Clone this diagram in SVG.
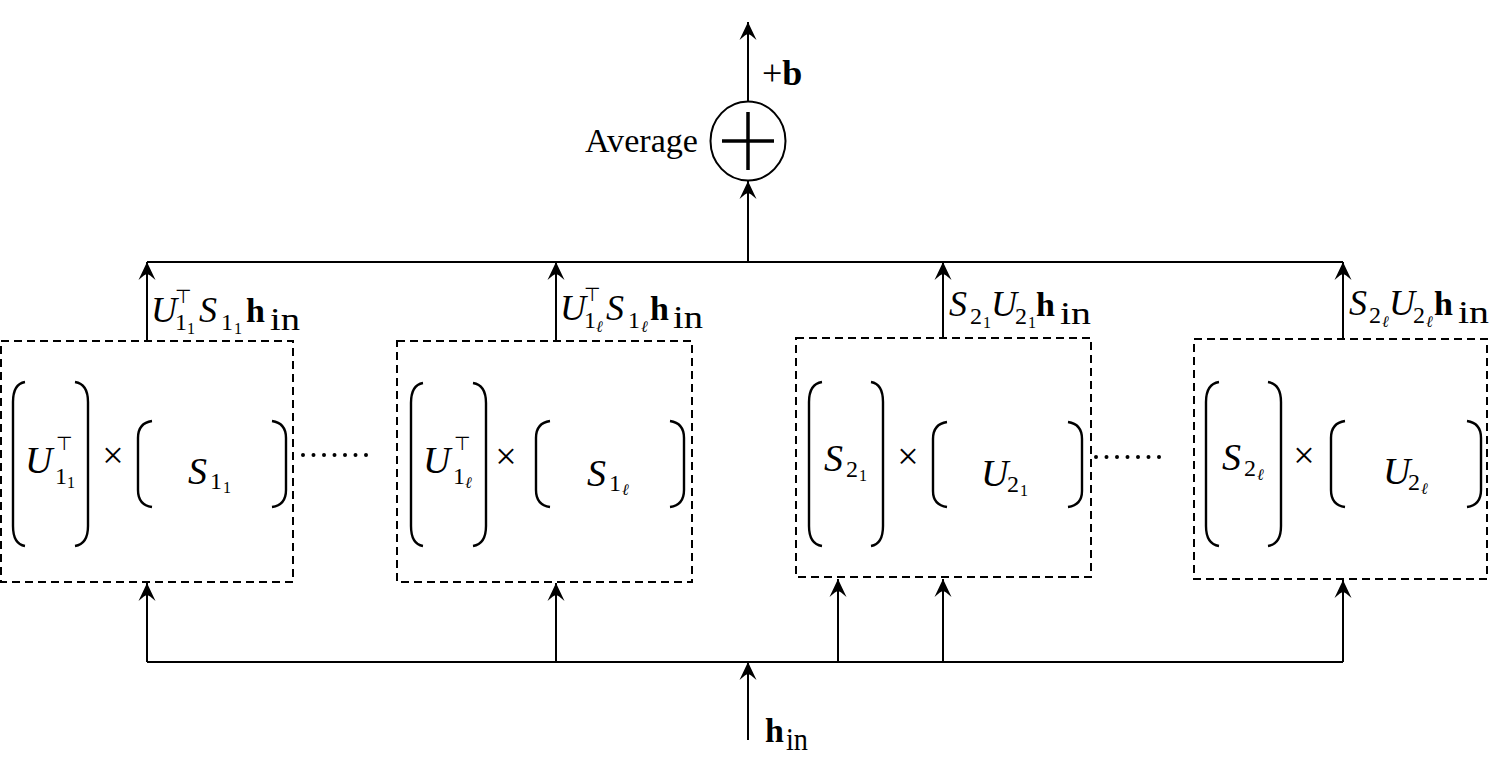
<svg xmlns="http://www.w3.org/2000/svg" width="1492" height="758" viewBox="0 0 1492 758">
<style>
text{font-family:"Liberation Serif","DejaVu Serif",serif;fill:#000}
.i{font-style:italic;font-size:38px}
.li{font-style:italic;font-size:36px}
.s{font-size:24px}
.ss{font-size:16px}
.ssi{font-size:16px;font-style:italic}
.t{font-family:"DejaVu Sans",sans-serif;font-size:19px}
.b{font-weight:bold;font-size:34px}
.in{font-size:32px}
.x{font-size:38px;text-anchor:middle}
.ln{stroke:#000;stroke-width:2;fill:none}
.ar{stroke:#000;stroke-width:2;fill:none;marker-end:url(#ah)}
.box{stroke:#000;stroke-width:2;fill:none;stroke-dasharray:8 5}
.par{stroke:#000;stroke-width:2.4;fill:none}
.dots{stroke:#000;stroke-width:4;stroke-linecap:round;stroke-dasharray:0 10.5;fill:none}
</style>
<defs>
<marker id="ah" viewBox="-20 -10 22 20" markerWidth="22" markerHeight="20" refX="0" refY="0" orient="auto" markerUnits="userSpaceOnUse">
<path d="M0,0 L-18,-8.5 Q-12,-2 -12,0 Q-12,2 -18,8.5 Z" fill="#000"/>
</marker>
</defs>
<rect width="1492" height="758" fill="#fff"/>

<g id="connectors">
<line class="ar" x1="748" y1="101" x2="748" y2="22"/>
<line class="ar" x1="748" y1="262" x2="748" y2="181"/>
<line class="ln" x1="147" y1="262" x2="1343" y2="262"/>
<line class="ar" x1="147" y1="341" x2="147" y2="262"/>
<line class="ar" x1="556" y1="341" x2="556" y2="262"/>
<line class="ar" x1="943" y1="338" x2="943" y2="262"/>
<line class="ar" x1="1343" y1="339" x2="1343" y2="262"/>
<line class="ln" x1="147" y1="662" x2="1343" y2="662"/>
<line class="ar" x1="147" y1="662" x2="147" y2="583"/>
<line class="ar" x1="556" y1="662" x2="556" y2="583"/>
<line class="ar" x1="838" y1="662" x2="838" y2="579"/>
<line class="ar" x1="943" y1="662" x2="943" y2="579"/>
<line class="ar" x1="1343" y1="662" x2="1343" y2="580"/>
<line class="ar" x1="748" y1="740" x2="748" y2="662"/>
<line class="dots" x1="303" y1="455" x2="367" y2="455"/>
<line class="dots" x1="1096" y1="457" x2="1160" y2="457"/>
</g>

<g id="average">
<ellipse cx="748" cy="141" rx="37.5" ry="39.5" fill="#fff" stroke="#000" stroke-width="2"/>
<line x1="722" y1="141" x2="774" y2="141" stroke="#000" stroke-width="3.5"/>
<line x1="748" y1="112" x2="748" y2="170" stroke="#000" stroke-width="3.5"/>
<text x="698" y="152" font-size="34" text-anchor="end" textLength="113" lengthAdjust="spacingAndGlyphs">Average</text>
</g>

<g id="bias">
<text x="762" y="85" font-size="36">+<tspan font-weight="bold">b</tspan></text>
</g>

<g id="input">
<text class="b" x="765" y="742">h</text>
<text class="in" x="786" y="750" textLength="22" lengthAdjust="spacingAndGlyphs">in</text>
</g>

<g id="box1">
<rect class="box" x="1" y="341" width="292" height="241"/>
<path class="par" d="M25,382 Q13,384 13,402 L13,526 Q13,544 25,546"/>
<path class="par" d="M75,382 Q88,384 88,402 L88,526 Q88,544 75,546"/>
<path class="par" d="M152,421 Q138,423 138,438 L138,490 Q138,505 152,507"/>
<path class="par" d="M272,421 Q286,423 286,438 L286,490 Q286,505 272,507"/>
<text class="i" x="25" y="473">U</text>
<text class="t" x="56" y="450">⊤</text>
<text class="s" x="55" y="484">1</text>
<text class="ss" x="67" y="488">1</text>
<text class="x" x="113" y="468">×</text>
<text class="i" x="188" y="484">S</text>
<text class="s" x="210" y="489">1</text>
<text class="ss" x="223" y="493">1</text>
<text class="li" x="151" y="322">U</text>
<text class="t" x="175" y="303">⊤</text>
<text class="s" x="175" y="330">1</text>
<text class="ss" x="187" y="334">1</text>
<text class="li" x="199" y="322">S</text>
<text class="s" x="221" y="330">1</text>
<text class="ss" x="234" y="334">1</text>
<text class="b" x="246" y="322">h</text>
<text class="in" x="270" y="330" textLength="30" lengthAdjust="spacingAndGlyphs">in</text>
</g>

<g id="box2">
<rect class="box" x="397" y="341" width="295" height="241"/>
<path class="par" d="M423,383 Q411,385 411,403 L411,526 Q411,544 423,546"/>
<path class="par" d="M473,383 Q486,385 486,403 L486,526 Q486,544 473,546"/>
<path class="par" d="M550,421 Q536,423 536,438 L536,490 Q536,505 550,507"/>
<path class="par" d="M670,421 Q684,423 684,438 L684,490 Q684,505 670,507"/>
<text class="i" x="423" y="473">U</text>
<text class="t" x="454" y="450">⊤</text>
<text class="s" x="453" y="484">1</text>
<text class="ssi" x="465" y="488">ℓ</text>
<text class="x" x="506" y="469">×</text>
<text class="i" x="587" y="486">S</text>
<text class="s" x="609" y="491">1</text>
<text class="ssi" x="622" y="495">ℓ</text>
<text class="li" x="560" y="320">U</text>
<text class="t" x="584" y="301">⊤</text>
<text class="s" x="584" y="328">1</text>
<text class="ssi" x="596" y="332">ℓ</text>
<text class="li" x="606" y="320">S</text>
<text class="s" x="628" y="328">1</text>
<text class="ssi" x="641" y="332">ℓ</text>
<text class="b" x="650" y="320">h</text>
<text class="in" x="673" y="328" textLength="30" lengthAdjust="spacingAndGlyphs">in</text>
</g>

<g id="box3">
<rect class="box" x="796" y="338" width="295" height="239"/>
<path class="par" d="M822,382 Q809,384 809,402 L809,526 Q809,544 822,546"/>
<path class="par" d="M871,382 Q883,384 883,402 L883,526 Q883,544 871,546"/>
<path class="par" d="M947,422 Q933,424 933,439 L933,491 Q933,505 947,507"/>
<path class="par" d="M1068,422 Q1082,424 1082,439 L1082,491 Q1082,505 1068,507"/>
<text class="i" x="824" y="471">S</text>
<text class="s" x="846" y="477">2</text>
<text class="ss" x="859" y="481">1</text>
<text class="x" x="908" y="469">×</text>
<text class="i" x="981" y="486">U</text>
<text class="s" x="1007" y="492">2</text>
<text class="ss" x="1020" y="496">1</text>
<text class="li" x="949" y="316">S</text>
<text class="s" x="970" y="324">2</text>
<text class="ss" x="983" y="328">1</text>
<text class="li" x="991" y="316">U</text>
<text class="s" x="1015" y="324">2</text>
<text class="ss" x="1028" y="328">1</text>
<text class="b" x="1036" y="316">h</text>
<text class="in" x="1060" y="324" textLength="31" lengthAdjust="spacingAndGlyphs">in</text>
</g>

<g id="box4">
<rect class="box" x="1194" y="339" width="293" height="240"/>
<path class="par" d="M1219,382 Q1206,384 1206,402 L1206,526 Q1206,544 1219,546"/>
<path class="par" d="M1268,382 Q1281,384 1281,402 L1281,526 Q1281,544 1268,546"/>
<path class="par" d="M1345,421 Q1331,423 1331,438 L1331,490 Q1331,505 1345,507"/>
<path class="par" d="M1467,421 Q1481,423 1481,438 L1481,490 Q1481,505 1467,507"/>
<text class="i" x="1222" y="470">S</text>
<text class="s" x="1244" y="476">2</text>
<text class="ssi" x="1257" y="480">ℓ</text>
<text class="x" x="1304" y="468">×</text>
<text class="i" x="1383" y="484">U</text>
<text class="s" x="1408" y="490">2</text>
<text class="ssi" x="1421" y="494">ℓ</text>
<text class="li" x="1349" y="315">S</text>
<text class="s" x="1369" y="323">2</text>
<text class="ssi" x="1382" y="327">ℓ</text>
<text class="li" x="1389" y="315">U</text>
<text class="s" x="1413" y="323">2</text>
<text class="ssi" x="1426" y="327">ℓ</text>
<text class="b" x="1434" y="315">h</text>
<text class="in" x="1458" y="323" textLength="31" lengthAdjust="spacingAndGlyphs">in</text>
</g>
</svg>
